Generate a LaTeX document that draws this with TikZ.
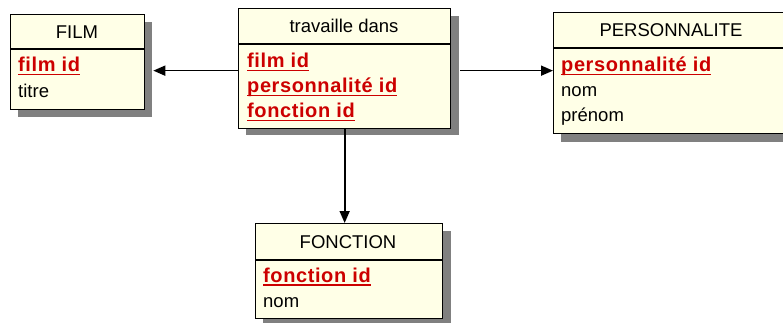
\documentclass[tikz,border=0pt]{standalone}
\usepackage{fontspec}
\setmainfont{Liberation Sans}
\newfontfamily\pkfont[LetterSpace=3]{Liberation Sans Bold}
\usetikzlibrary{arrows.meta,calc}
\definecolor{cream}{RGB}{255,255,231}
\definecolor{shade}{RGB}{128,128,128}
\definecolor{keyred}{RGB}{204,0,0}
\newcommand{\pkline}[1]{{\pkfont\fontsize{20pt}{24pt}\selectfont\color{keyred}\setbox0\hbox{#1}\rlap{\rule[-3.5pt]{\wd0}{1.6pt}}\box0}}
\tikzset{
  table/.style={draw=black, line width=1.3pt, fill=cream, rectangle, anchor=north west, inner sep=0pt},
  shadowbox/.style={fill=shade, draw=none},
  title/.style={anchor=base, inner sep=0pt, font=\fontsize{18.5pt}{22pt}\selectfont},
  field/.style={anchor=base west, inner sep=0pt, font=\fontsize{18.5pt}{22pt}\selectfont},
  arr/.style={line width=1.7pt, -{Triangle[length=12pt,width=10pt]}}
}
\begin{document}
\begin{tikzpicture}[x=1pt,y=1pt]
\clip (0,0) rectangle (783,-323);
\fill[white] (0,0) rectangle (783,-323);
% shadows
\fill[shadowbox] (18,-22) rectangle (152,-117);
\fill[shadowbox] (246,-16) rectangle (459,-135);
\fill[shadowbox] (561,-20) rectangle (812,-142);
\fill[shadowbox] (263,-231) rectangle (451,-326);
% tables
\node[table, minimum width=134pt, minimum height=95pt] (film) at (10,-14) {};
\node[table, minimum width=212pt, minimum height=120pt] (trav) at (238,-8) {};
\node[table, minimum width=250pt, minimum height=121pt] (pers) at (553,-12) {};
\node[table, minimum width=187pt, minimum height=95pt] (fonc) at (255,-223) {};
% header lines
\draw[line width=1.3pt] ($(film.north west)+(0,-35)$) -- ($(film.north east)+(0,-35)$);
\draw[line width=1.3pt] ($(trav.north west)+(0,-36)$) -- ($(trav.north east)+(0,-36)$);
\draw[line width=1.3pt] ($(pers.north west)+(0,-36)$) -- ($(pers.north east)+(0,-36)$);
\draw[line width=1.3pt] ($(fonc.north west)+(0,-37)$) -- ($(fonc.north east)+(0,-37)$);
% FILM
\node[title] (filmt) at (77,-39) {FILM};
\node[field] (filmk) at (18,-72) {\pkline{film id}};
\node[field] (filmf) at (18,-98) {titre};
% travaille dans
\node[title] (travt) at (344,-33) {travaille dans};
\node[field] (travk1) at (247,-68) {\pkline{film id}};
\node[field] (travk2) at (247,-93) {\pkline{personnalité id}};
\node[field] (travk3) at (247,-118) {\pkline{fonction id}};
% PERSONNALITE
\node[title] (perst) at (671,-37) {PERSONNALITE};
\node[field] (persk) at (561,-72) {\pkline{personnalité id}};
\node[field] (persf1) at (561,-97) {nom};
\node[field] (persf2) at (561,-122) {prénom};
% FONCTION
\node[title] (fonct) at (348,-248) {FONCTION};
\node[field] (fonck) at (263,-282) {\pkline{fonction id}};
\node[field] (foncf) at (263,-307) {nom};
% connectors
\coordinate (filmin) at ($(film.east)+(8,-8.5)$);
\coordinate (persin) at ($(pers.west)+(0,2.5)$);
\coordinate (travr) at ($(trav.east)+(9,0)$);
\draw[arr] (trav.west |- filmin) -- (filmin);
\draw[arr] (travr |- persin) -- (persin);
\draw[arr] (trav.south) -- (trav.south |- fonc.north);
\end{tikzpicture}
\end{document}
